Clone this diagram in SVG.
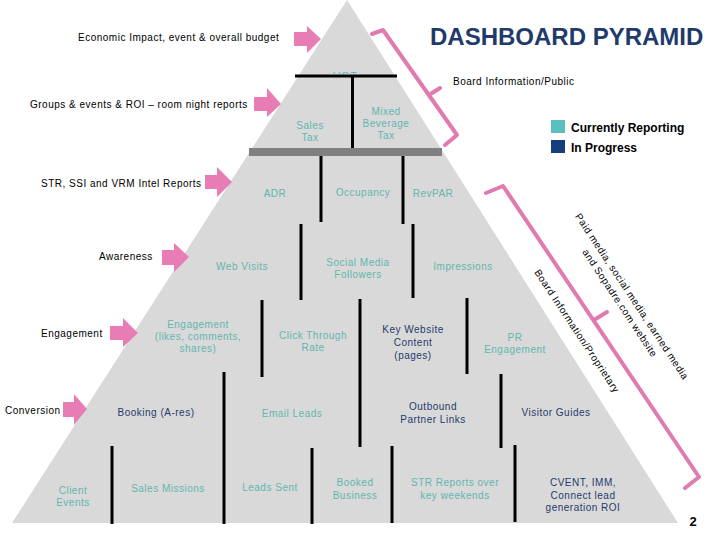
<svg xmlns="http://www.w3.org/2000/svg" width="720" height="540" viewBox="0 0 720 540">
<style>
text{font-family:"Liberation Sans",Arial,sans-serif;font-size:10px;letter-spacing:0.5px}
.lbl{fill:#000}
.t{fill:#62b6b0;text-anchor:middle}
.n{fill:#1f3b6b;text-anchor:middle}
.div{stroke:#000;stroke-width:3;fill:none}
.arr{fill:#e87db5}
.br{stroke:#e07aaf;stroke-width:4;fill:none;stroke-linejoin:round;stroke-linecap:round}
.rot{fill:#000;text-anchor:middle}
</style>
<defs>
<clipPath id="hotclip"><rect x="320" y="60" width="60" height="14.5"/></clipPath>
</defs>
<rect width="720" height="540" fill="#fff"/>
<polygon id="pyramid" points="347,0 12,523 678,523" fill="#d9d9d9"/>

<text x="430" y="45" style="font-size:24px;font-weight:bold;fill:#1f3b6b;letter-spacing:0">DASHBOARD PYRAMID</text>

<g id="legend">
<rect x="551" y="120" width="14" height="13" fill="#5bbfbf"/>
<text x="571" y="131.5" style="font-size:12px;font-weight:bold;letter-spacing:0">Currently Reporting</text>
<rect x="551" y="140" width="14" height="13" fill="#153e7e"/>
<text x="571" y="151.5" style="font-size:12px;font-weight:bold;letter-spacing:0">In Progress</text>
</g>

<g id="dividers">
<line class="div" x1="295" y1="76" x2="397" y2="76"/>
<line class="div" x1="352.5" y1="76" x2="352.5" y2="153"/>
<rect x="249" y="148" width="193" height="8" fill="#808080"/>
<line class="div" x1="321" y1="156" x2="321" y2="222"/>
<line class="div" x1="403" y1="156" x2="403" y2="224"/>
<line class="div" x1="301" y1="224" x2="301" y2="300"/>
<line class="div" x1="413" y1="224" x2="413" y2="298"/>
<line class="div" x1="262" y1="300" x2="262" y2="377"/>
<line class="div" x1="360" y1="299" x2="360" y2="447"/>
<line class="div" x1="467" y1="298" x2="467" y2="374"/>
<line class="div" x1="224" y1="372" x2="224" y2="524"/>
<line class="div" x1="501" y1="374" x2="501" y2="448"/>
<line class="div" x1="112" y1="446" x2="112" y2="524"/>
<line class="div" x1="312" y1="448" x2="312" y2="524"/>
<line class="div" x1="392" y1="446" x2="392" y2="523"/>
<line class="div" x1="515" y1="445" x2="515" y2="522"/>
</g>

<g id="connectors">
<polygon class="arr" points="294,32 307,32 307,26 321,39 307,53 307,46 294,46"/>
<polygon class="arr" points="254,97 267,97 267,88 281,104 267,117 267,111 254,111"/>
<polygon class="arr" points="205,175 217,175 217,167 232,182 217,197 217,189 205,189"/>
<polygon class="arr" points="162,250 174,250 174,243 189,257 174,272 174,265 162,265"/>
<polygon class="arr" points="110,326 123,326 123,318 138,333 123,347 123,340 110,340"/>
<polygon class="arr" points="63,402 74,402 74,394 87,409 74,425 74,417 63,417"/>
<polyline class="br" points="372,34 383,30 457,135 445,145"/>
<line class="br" x1="429" y1="95" x2="440" y2="88"/>
<polyline class="br" points="486,193 503,186 699,477 685,488"/>
<line class="br" x1="594" y1="320" x2="607" y2="312"/>
</g>

<g id="labels">
<text class="lbl" x="78" y="40.5">Economic Impact, event &amp; overall budget</text>
<text class="lbl" x="30" y="107.5">Groups &amp; events &amp; ROI – room night reports</text>
<text class="lbl" x="41" y="187">STR, SSI and VRM Intel Reports</text>
<text class="lbl" x="99" y="259.5">Awareness</text>
<text class="lbl" x="41" y="336.5">Engagement</text>
<text class="lbl" x="5" y="413.5">Conversion</text>
<text class="lbl" x="453" y="84.5">Board Information/Public</text>
</g>

<g id="rotated">
<text class="rot" transform="translate(632,296.5) rotate(56.5)" y="3.5">Paid media, social media, earned media</text>
<text class="rot" transform="translate(620,303) rotate(56.5)" y="3.5">and Sopadre.com website</text>
<text class="rot" transform="translate(577,331) rotate(56.5)" y="3.5">Board Information/Proprietary</text>
</g>

<g id="hot"><text class="t" x="345" y="80" clip-path="url(#hotclip)" style="font-size:11px">HOT</text></g>
<g id="sales-tax"><text class="t" x="310" y="128.5">Sales</text><text class="t" x="310" y="141">Tax</text></g>
<g id="mixed-beverage-tax"><text class="t" x="386" y="114.5">Mixed</text><text class="t" x="386" y="126.5">Beverage</text><text class="t" x="386" y="139">Tax</text></g>
<g id="adr"><text class="t" x="275" y="197">ADR</text></g>
<g id="occupancy"><text class="t" x="363" y="195.5">Occupancy</text></g>
<g id="revpar"><text class="t" x="433" y="197">RevPAR</text></g>
<g id="web-visits"><text class="t" x="242" y="269.5">Web Visits</text></g>
<g id="social-media"><text class="t" x="358" y="266">Social Media</text><text class="t" x="358" y="278">Followers</text></g>
<g id="impressions"><text class="t" x="463" y="269.5">Impressions</text></g>
<g id="engagement"><text class="t" x="198" y="328">Engagement</text><text class="t" x="198" y="340">(likes, comments,</text><text class="t" x="198" y="352">shares)</text></g>
<g id="click-through"><text class="t" x="313" y="339">Click Through</text><text class="t" x="313" y="351">Rate</text></g>
<g id="key-website"><text class="n" x="413" y="333">Key Website</text><text class="n" x="413" y="346">Content</text><text class="n" x="413" y="359">(pages)</text></g>
<g id="pr-engagement"><text class="t" x="515" y="341">PR</text><text class="t" x="515" y="353">Engagement</text></g>
<g id="booking"><text class="n" x="156" y="416">Booking (A-res)</text></g>
<g id="email-leads"><text class="t" x="292" y="417">Email Leads</text></g>
<g id="outbound"><text class="n" x="433" y="410">Outbound</text><text class="n" x="433" y="423">Partner Links</text></g>
<g id="visitor-guides"><text class="n" x="556" y="416">Visitor Guides</text></g>
<g id="client-events"><text class="t" x="73" y="494">Client</text><text class="t" x="73" y="506">Events</text></g>
<g id="sales-missions"><text class="t" x="168" y="491.5">Sales Missions</text></g>
<g id="leads-sent"><text class="t" x="270" y="491">Leads Sent</text></g>
<g id="booked-business"><text class="t" x="355" y="486">Booked</text><text class="t" x="355" y="499">Business</text></g>
<g id="str-reports"><text class="t" x="455" y="486">STR Reports over</text><text class="t" x="455" y="499">key weekends</text></g>
<g id="cvent"><text class="n" x="583" y="486">CVENT, IMM,</text><text class="n" x="583" y="499">Connect lead</text><text class="n" x="583" y="511">generation ROI</text></g>

<text x="693" y="526" style="font-size:13px;font-weight:bold;text-anchor:middle;letter-spacing:0">2</text>
</svg>
